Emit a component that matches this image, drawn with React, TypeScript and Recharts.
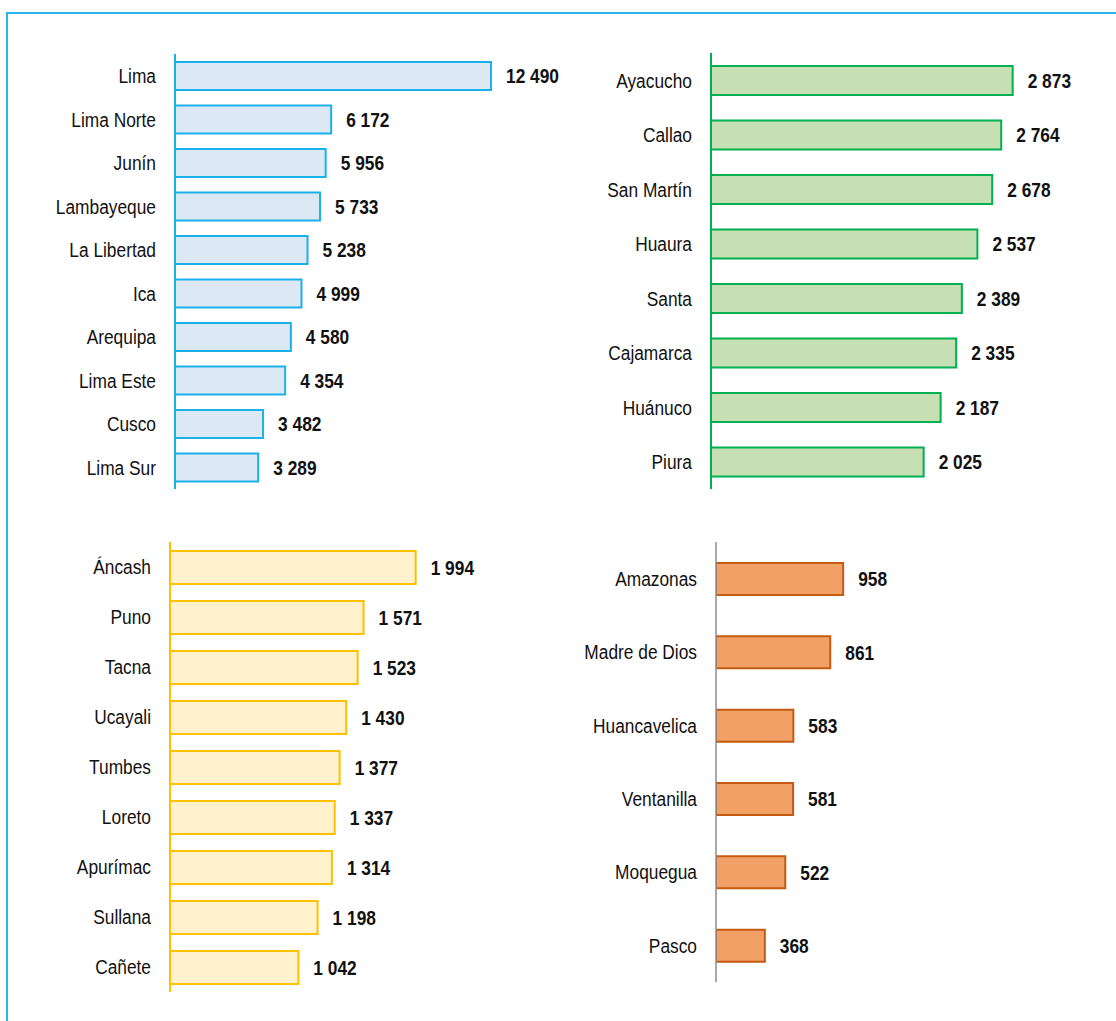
import { Bar, BarChart, LabelList, XAxis, YAxis } from 'recharts'

const blueNames = ['Lima', 'Lima Norte', 'Junín', 'Lambayeque', 'La Libertad', 'Ica', 'Arequipa', 'Lima Este', 'Cusco', 'Lima Sur']
const blueValues = [12490, 6172, 5956, 5733, 5238, 4999, 4580, 4354, 3482, 3289]

const greenNames = ['Ayacucho', 'Callao', 'San Martín', 'Huaura', 'Santa', 'Cajamarca', 'Huánuco', 'Piura']
const greenValues = [2873, 2764, 2678, 2537, 2389, 2335, 2187, 2025]

const yellowNames = ['Áncash', 'Puno', 'Tacna', 'Ucayali', 'Tumbes', 'Loreto', 'Apurímac', 'Sullana', 'Cañete']
const yellowValues = [1994, 1571, 1523, 1430, 1377, 1337, 1314, 1198, 1042]

const orangeNames = ['Amazonas', 'Madre de Dios', 'Huancavelica', 'Ventanilla', 'Moquegua', 'Pasco']
const orangeValues = [958, 861, 583, 581, 522, 368]

// no narrow face installed, so Liberation Sans squeezed horizontally
const FONT = "'Liberation Sans', Arial, sans-serif"
const SQUEEZE = 0.825

const fmt = (v: number) => String(v).replace(/\B(?=(\d{3})+(?!\d))/g, ' ')

function NameTick(props: any) {
  const { x, y, payload } = props
  return (
    <g transform={`translate(${x},${y})`}>
      <text
        transform={`scale(${SQUEEZE},1)`}
        textAnchor="end"
        dy="0.355em"
        fill="#111"
        fontSize={21}
        fontFamily={FONT}
      >
        {payload.value}
      </text>
    </g>
  )
}

function ValueLabel(props: any) {
  const { x, y, width, height, value } = props
  return (
    <g transform={`translate(${Number(x) + Number(width) + 15},${Number(y) + Number(height) / 2})`}>
      <text
        transform={`scale(${SQUEEZE},1)`}
        textAnchor="start"
        dy="0.355em"
        fill="#111"
        fontSize={21}
        fontWeight={700}
        fontFamily={FONT}
      >
        {fmt(Number(value))}
      </text>
    </g>
  )
}

interface PanelProps {
  names: string[]
  values: number[]
  left: number
  top: number
  height: number
  axisWidth: number
  plotWidth: number
  max: number
  barSize: number
  fill: string
  stroke: string
  axisColor: string
  axisStrokeWidth?: number
}

function Panel(p: PanelProps) {
  const data = p.names.map((name, i) => ({ name, value: p.values[i] }))
  return (
    <div style={{ position: 'absolute', left: p.left, top: p.top }}>
      <BarChart
        width={p.axisWidth + p.plotWidth}
        height={p.height}
        data={data}
        layout="vertical"
        margin={{ top: 0, right: 0, bottom: 0, left: 0 }}
      >
        <XAxis type="number" hide domain={[0, p.max]} allowDataOverflow />
        <YAxis
          type="category"
          dataKey="name"
          width={p.axisWidth}
          interval={0}
          tickLine={false}
          tickSize={0}
          tickMargin={19}
          axisLine={{ stroke: p.axisColor, strokeWidth: p.axisStrokeWidth ?? 2 }}
          tick={<NameTick />}
        />
        <Bar dataKey="value" fill={p.fill} stroke={p.stroke} strokeWidth={2} barSize={p.barSize} isAnimationActive={false}>
          <LabelList dataKey="value" content={<ValueLabel />} />
        </Bar>
      </BarChart>
    </div>
  )
}

export default function App() {
  return (
    <div
      style={{
        position: 'absolute',
        left: 0,
        top: 0,
        width: 1116,
        height: 1021,
        overflow: 'hidden',
        background: '#fff',
      }}
    >
      <div
        style={{
          position: 'absolute',
          left: 6,
          top: 12,
          width: 1300,
          height: 1200,
          borderTop: '2px solid #2ab5ea',
          borderLeft: '2px solid #2ab5ea',
        }}
      />
      <Panel
        names={blueNames}
        values={blueValues}
        left={0}
        top={54}
        height={435}
        axisWidth={175}
        plotWidth={400}
        max={400 / 0.0253}
        barSize={28}
        fill="#dde8f5"
        stroke="#1ab0ea"
        axisColor="#1ab0ea"
      />
      <Panel
        names={greenNames}
        values={greenValues}
        left={581}
        top={53}
        height={436}
        axisWidth={130}
        plotWidth={380}
        max={380 / 0.105}
        barSize={29}
        fill="#c6e0b4"
        stroke="#00b050"
        axisColor="#00b050"
      />
      <Panel
        names={yellowNames}
        values={yellowValues}
        left={0}
        top={542}
        height={450}
        axisWidth={170}
        plotWidth={330}
        max={330 / 0.1232}
        barSize={33}
        fill="#fff2cc"
        stroke="#ffc000"
        axisColor="#ffc000"
      />
      <Panel
        names={orangeNames}
        values={orangeValues}
        left={556}
        top={542}
        height={440}
        axisWidth={160}
        plotWidth={250}
        max={250 / 0.1327}
        barSize={32}
        fill="#f1a066"
        stroke="#c55a11"
        axisColor="#8c8c8c"
        axisStrokeWidth={1.5}
      />
    </div>
  )
}
